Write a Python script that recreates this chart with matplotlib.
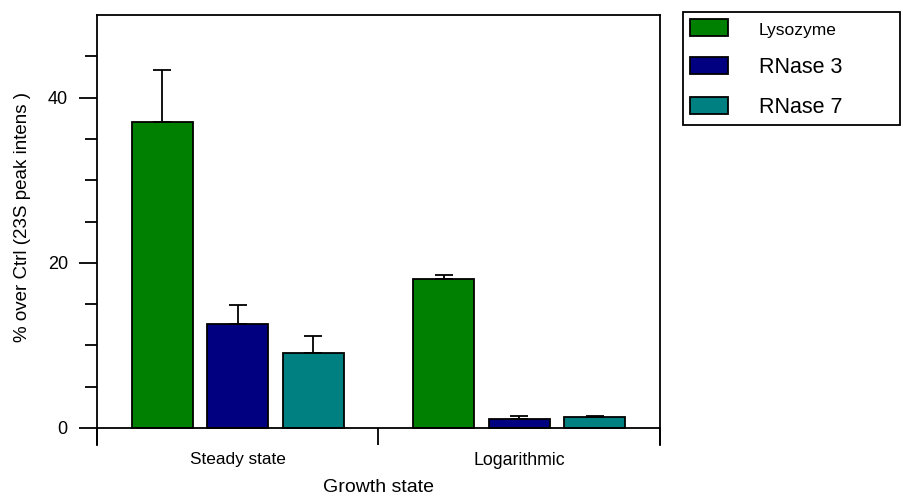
import matplotlib
matplotlib.use('Agg')
import matplotlib.pyplot as plt
from matplotlib.patches import Patch
from matplotlib.ticker import FixedLocator, NullFormatter
import numpy as np

plt.rcParams['font.family'] = ['Liberation Sans', 'DejaVu Sans']

groups = ['Steady state', 'Logarithmic']
series = ['Lysozyme', 'RNase 3', 'RNase 7']
colors = ['#008000', '#000080', '#008080']
lysozyme_vals = [37.0, 18.0]
rnase3_vals = [12.6, 1.1]
rnase7_vals = [9.1, 1.3]
lysozyme_err = [6.3, 0.55]
rnase3_err = [2.25, 0.35]
rnase7_err = [2.0, 0.1]
yticks_major = [0, 20, 40]
yticks_minor = [5, 10, 15, 25, 30, 35, 45]

W, H = 904, 497
LW = 1.3
fig = plt.figure(figsize=(W / 100, H / 100), dpi=100)
ax = fig.add_axes([97 / W, 1 - 445 / H, (660 - 97) / W, (445 - 15) / H])

vals = [lysozyme_vals, rnase3_vals, rnase7_vals]
errs = [lysozyme_err, rnase3_err, rnase7_err]
centers = np.arange(len(groups)) + 0.5
offset = 0.268
bw = 0.217
for i, (v, e, c) in enumerate(zip(vals, errs, colors)):
    x = centers + (i - 1) * offset
    ax.bar(x, v, width=bw, color=c, edgecolor='black', linewidth=LW, zorder=2)
    ax.errorbar(x, v, yerr=[np.zeros(len(e)), e], fmt='none', ecolor='black',
                elinewidth=LW, capsize=6.8, capthick=LW, zorder=3)

ax.set_xlim(0, 2)
ax.set_ylim(-17 * 50 / 413, 50)

for s in ['left', 'right', 'top', 'bottom']:
    ax.spines[s].set_linewidth(LW)
ax.spines['bottom'].set_position(('data', 0))

ax.yaxis.set_major_locator(FixedLocator(yticks_major))
ax.yaxis.set_minor_locator(FixedLocator(yticks_minor))
ax.tick_params(axis='y', which='major', length=13, width=LW, pad=8, labelsize=13)
ax.tick_params(axis='y', which='minor', length=8.6, width=LW)

ax.xaxis.set_major_locator(FixedLocator([0, 1, 2]))
ax.xaxis.set_major_formatter(NullFormatter())
ax.xaxis.set_minor_locator(FixedLocator(list(centers)))
ax.set_xticklabels(groups, minor=True)
ax.tick_params(axis='x', which='major', length=12, width=LW, direction='out')
ax.tick_params(axis='x', which='minor', length=0, pad=17)
for t, fs in zip(ax.get_xticklabels(minor=True), [12.4, 12.8]):
    t.set_fontsize(fs)

ax.set_xlabel('Growth state', fontsize=14)
ax.xaxis.set_label_coords(0.5, (445 - 479) / 430)
ax.set_ylabel('% over Ctrl (23S peak intens )', fontsize=13.5, va='center')
ax.yaxis.set_label_coords((23 - 97) / 563, (445 - 216.5) / 430)

handles = [Patch(facecolor=c, edgecolor='black', linewidth=LW) for c in colors]
leg = fig.legend(handles, series, loc='upper left',
                 bbox_to_anchor=(683 / W, 1 - 123 / H, (900 - 683) / W, (123 - 12) / H),
                 mode='expand', frameon=True,
                 fancybox=False, edgecolor='black', framealpha=1,
                 prop={'size': 15.5},
                 handlelength=1.75, handleheight=0.85, handletextpad=1.45,
                 labelspacing=0.88, borderpad=0.32, borderaxespad=0)
leg.get_frame().set_linewidth(LW)
leg.get_texts()[0].set_fontsize(12.5)

fig.savefig('out.png', dpi=100)
